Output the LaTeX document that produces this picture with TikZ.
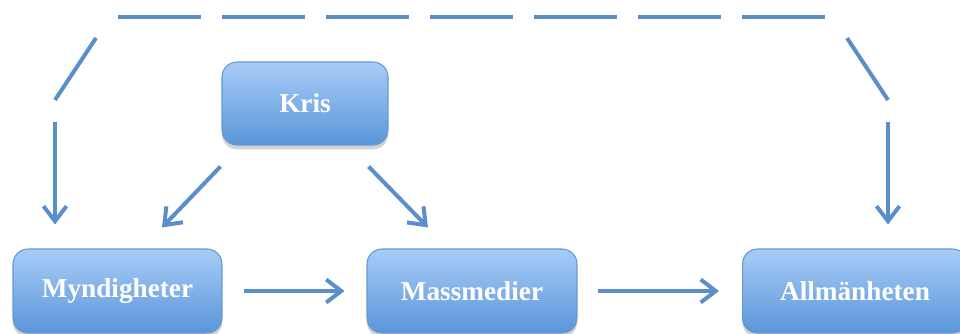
\documentclass[tikz,border=0pt]{standalone}
\usepackage{fontspec}
\setmainfont{Liberation Serif}
\usetikzlibrary{arrows.meta,calc,shadows}
\definecolor{linkblue}{HTML}{5A8FCB}
\definecolor{boxtop}{HTML}{A8CCF7}
\definecolor{boxbot}{HTML}{5A96D9}
\definecolor{boxedge}{HTML}{6698D2}
\tikzset{
  stage/.style={rectangle, rounded corners=0.3cm, draw=boxedge, line width=0.6pt,
    top color=boxtop, bottom color=boxbot, text=white,
    font=\fontsize{15.5}{18}\selectfont\bfseries, minimum height=1.68cm,
    drop shadow={opacity=0.35, shadow xshift=0pt, shadow yshift=-2.5pt}},
  link/.style={draw=linkblue, line width=0.08cm, line cap=butt},
  flow/.style={link, -{Straight Barb[length=0.3cm,width=0.46cm,line width=0.08cm]}},
}
\begin{document}
\begin{tikzpicture}[x=0.02cm,y=-0.02cm]
\useasboundingbox (0,0) rectangle (960,334);
\fill[white] (0,0) rectangle (960,334);

% the four stages
\node[stage, minimum width=3.32cm, minimum height=1.66cm] (kris) at (305,103.5) {Kris};
\node[stage, minimum width=4.18cm] (myn) at (117.5,291) {Myndigheter};
\node[stage, minimum width=4.20cm] (mass) at (472,291) {Massmedier};
\node[stage, minimum width=4.50cm] (allm) at (855,291) {Allmänheten};

% direct influence
\draw[flow] ($(kris.south west)+(-1,21)$) -- ($(myn.north)+(44.5,-21)$);
\draw[flow] ($(kris.south east)+(-20,21)$) -- ($(mass.north)+(-44,-21)$);
\draw[flow] ($(myn.east)+(21,0)$) -- ($(mass.west)+(-22,0)$);
\draw[flow] ($(mass.east)+(20,0)$) -- ($(allm.west)+(-23,0)$);

% indirect (dashed) route over the top
\coordinate (lstart) at (55,122);
\coordinate (rstart) at (888,122);
\draw[link] (55,100) -- (96,38);
\draw[link, dash pattern=on 1.66cm off 0.42cm] (118,17) -- (826,17);
\draw[link] (847,38) -- (888,100);
\draw[flow, shorten >=0.48cm] (lstart) -- (lstart |- myn.north);
\draw[flow, shorten >=0.48cm] (rstart) -- (rstart |- allm.north);
\end{tikzpicture}
\end{document}
